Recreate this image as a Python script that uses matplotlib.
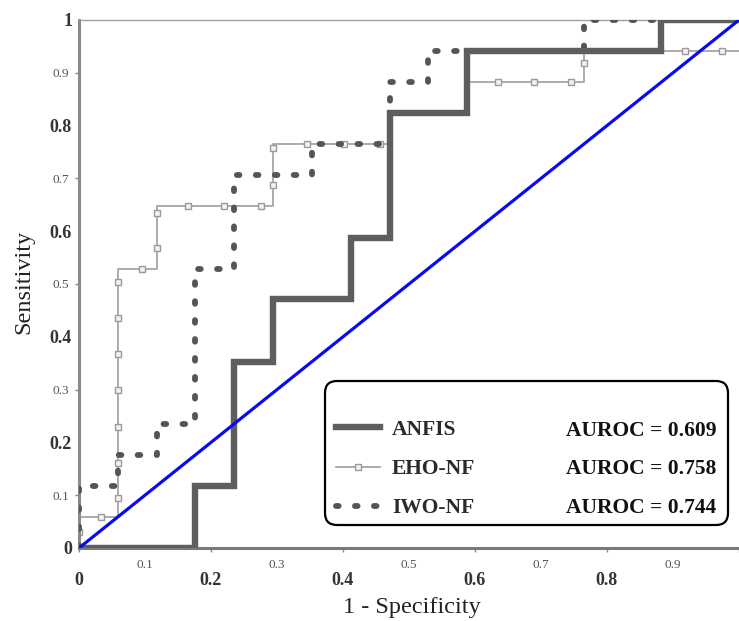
import matplotlib
matplotlib.use('Agg')
import matplotlib.pyplot as plt
from matplotlib.lines import Line2D
from matplotlib.patches import FancyBboxPatch

plt.rcParams['font.family'] = ['Liberation Serif', 'DejaVu Serif']

# ROC 曲线数据 (阶梯拐点, steps-post)
anfis_fpr = [0, 0.176, 0.235, 0.294, 0.412, 0.471, 0.588, 0.882, 1.0]
anfis_tpr = [0, 0.118, 0.353, 0.471, 0.588, 0.824, 0.941, 1.0, 1.0]

eho_fpr = [0, 0, 0.059, 0.118, 0.294, 0.471, 0.588, 0.765, 1.0]
eho_tpr = [0, 0.059, 0.529, 0.647, 0.765, 0.824, 0.882, 0.941, 0.941]

# EHO-NF 曲线上的方形标记位置
eho_mark_fpr = [0, 0.033, 0.059, 0.059, 0.059, 0.059, 0.059, 0.059, 0.059,
                0.095, 0.118, 0.118, 0.165, 0.220, 0.276, 0.294, 0.294,
                0.345, 0.402, 0.456, 0.635, 0.689, 0.745, 0.765, 0.918, 0.974]
eho_mark_tpr = [0.030, 0.059, 0.095, 0.161, 0.229, 0.299, 0.367, 0.436, 0.504,
                0.529, 0.568, 0.635, 0.647, 0.647, 0.647, 0.688, 0.758,
                0.765, 0.765, 0.765, 0.882, 0.882, 0.882, 0.918, 0.941, 0.941]

iwo_fpr = [0, 0, 0.059, 0.118, 0.176, 0.235, 0.353, 0.471, 0.529, 0.765, 1.0]
iwo_tpr = [0, 0.118, 0.176, 0.235, 0.529, 0.706, 0.765, 0.882, 0.941, 1.0, 1.0]

model_names = ['ANFIS', 'EHO-NF', 'IWO-NF']
auroc = [0.609, 0.758, 0.744]

major_ticks = [0, 0.2, 0.4, 0.6, 0.8, 1]
minor_ticks = [0.1, 0.3, 0.5, 0.7, 0.9]

fig = plt.figure(figsize=(7.39, 6.21), dpi=100)
ax = fig.add_axes([79 / 739, 73 / 621, 660 / 739, 528 / 621])

anfis_style = dict(color='#5e5e5e', lw=4.6, solid_joinstyle='miter')
eho_style = dict(color='#a6a6a6', lw=1.3)
iwo_style = dict(color='#555555', lw=4.2, dashes=(0.45, 2.8), dash_capstyle='round')

# 画曲线
ax.plot(eho_fpr, eho_tpr, drawstyle='steps-post', zorder=2, **eho_style)
ax.plot(eho_mark_fpr, eho_mark_tpr, ls='none', marker='s', ms=4.5,
        mfc='#f2f2f2', mec='#9a9a9a', mew=1.0, zorder=2.5)
ax.plot(iwo_fpr, iwo_tpr, drawstyle='steps-post', zorder=3, **iwo_style)
ax.plot(anfis_fpr, anfis_tpr, drawstyle='steps-post', zorder=4, **anfis_style)
ax.plot([0, 1], [0, 1], color='#0a0af0', lw=2.3, zorder=5)

ax.set_xlim(0, 1)
ax.set_ylim(0, 1)

# 坐标轴样式
ax.spines['right'].set_visible(False)
ax.spines['left'].set_color('#8a8a8a')
ax.spines['left'].set_linewidth(2.2)
ax.spines['bottom'].set_color('#7a7a7a')
ax.spines['bottom'].set_linewidth(2.2)
ax.spines['top'].set_color('#a0a0a0')
ax.spines['top'].set_linewidth(1.0)

ax.set_xticks(major_ticks)
ax.set_xticklabels(['0', '0.2', '0.4', '0.6', '0.8', ''])
ax.set_xticks(minor_ticks, minor=True)
ax.set_xticklabels(['0.1', '0.3', '0.5', '0.7', '0.9'], minor=True)
ax.set_yticks(major_ticks)
ax.set_yticklabels(['0', '0.2', '0.4', '0.6', '0.8', '1'])
ax.set_yticks(minor_ticks, minor=True)
ax.set_yticklabels(['0.1', '0.3', '0.5', '0.7', '0.9'], minor=True)

ax.tick_params(axis='x', which='major', length=3, width=1, color='#888888',
               pad=14, labelsize=13, labelcolor='#333333')
ax.tick_params(axis='x', which='minor', length=0, pad=8, labelsize=9.5,
               labelcolor='#555555')
ax.tick_params(axis='y', which='major', length=0, pad=5, labelsize=13,
               labelcolor='#333333')
ax.tick_params(axis='y', which='minor', length=3, width=1, color='#888888',
               pad=4, labelsize=9.5, labelcolor='#555555')
for lab in ax.get_xticklabels() + ax.get_yticklabels():
    lab.set_fontweight('bold')

ax.set_xlabel('1 - Specificity', fontsize=17.5, color='#222222', va='center')
ax.xaxis.set_label_coords((412 - 79) / 660, (548 - 607) / 528)
ax.set_ylabel('Sensitivity', fontsize=17.5, color='#222222', va='center')
ax.yaxis.set_label_coords((24 - 79) / 660, (548 - 282) / 528)

# 图例框
box = FancyBboxPatch((3.25, 0.96), 4.03, 1.44,
                     boxstyle='round,pad=0,rounding_size=0.12',
                     transform=fig.dpi_scale_trans, fc='white', ec='black',
                     lw=1.6, zorder=6)
fig.add_artist(box)

handles = [
    Line2D([], [], **anfis_style),
    Line2D([], [], marker='s', ms=4.5, mfc='#f2f2f2', mec='#9a9a9a', mew=1.0, **eho_style),
    Line2D([], [], **iwo_style),
]
leg = fig.legend(handles, model_names, loc='center left',
                 bbox_to_anchor=(3.36, 1.52), bbox_transform=fig.dpi_scale_trans,
                 frameon=False, borderpad=0, borderaxespad=0, numpoints=1,
                 handlelength=2.05, handletextpad=0.55, labelspacing=0.9,
                 prop={'size': 15.5, 'weight': 'bold'})
leg.set_zorder(7)
for t in leg.get_texts():
    t.set_color('#2a2a2a')

row_y = [6.21 - 4.31, 6.21 - 4.69, 6.21 - 5.08]
for y, a in zip(row_y, auroc):
    fig.text(7.16, y, f'AUROC = {a:.3f}', transform=fig.dpi_scale_trans,
             ha='right', va='center', fontsize=15.5, fontweight='bold',
             color='#111111', zorder=7)

plt.savefig('out.png', dpi=100)
plt.close()
